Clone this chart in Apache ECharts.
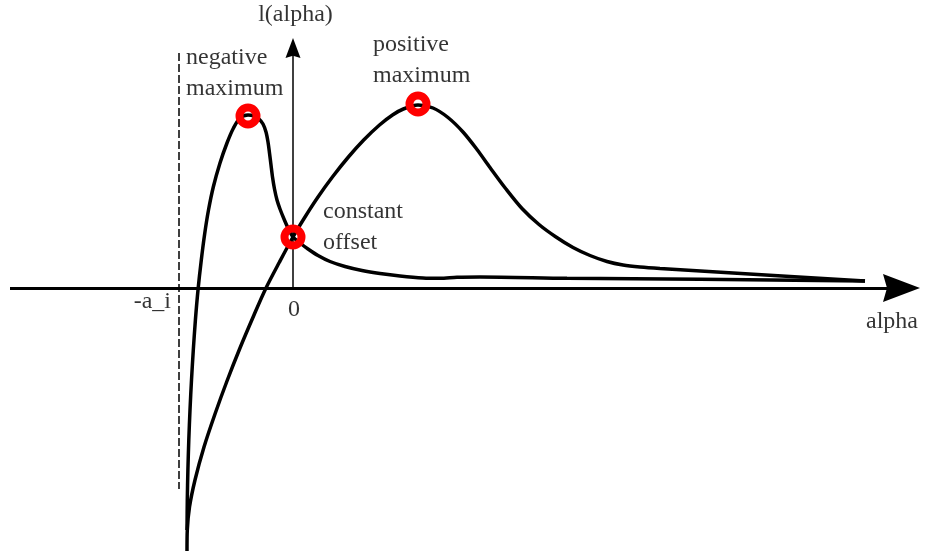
<!DOCTYPE html>
<html><head><meta charset="utf-8">
<script src="https://cdn.jsdelivr.net/npm/echarts@6/dist/echarts.min.js"></script>
<style>html,body{margin:0;padding:0;background:#fff}#c{width:932px;height:554px}</style>
</head><body><div id="c"></div>
<script>
// curve with the negative maximum: [alpha, l(alpha)]
const curveNegative = [
  [-1.06,-2.42],[-1.057,-2.12],[-1.051,-1.82],[-1.042,-1.52],[-1.03,-1.22],[-1.015,-0.92],
  [-0.997,-0.62],[-0.976,-0.32],[-0.95,-0.02],[-0.917,0.28],[-0.882,0.55],[-0.845,0.78],
  [-0.797,1.01],[-0.73,1.25],[-0.66,1.45],[-0.595,1.60],[-0.53,1.70],[-0.45,1.73],
  [-0.39,1.72],[-0.34,1.69],[-0.30,1.64],[-0.27,1.56],[-0.25,1.46],[-0.235,1.35],
  [-0.22,1.23],[-0.205,1.11],[-0.185,0.99],[-0.16,0.88],[-0.13,0.79],[-0.09,0.69],
  [-0.05,0.60],[0,0.51],[0.07,0.45],[0.15,0.39],[0.25,0.325],[0.37,0.265],[0.52,0.215],
  [0.69,0.175],[0.87,0.145],[1.07,0.12],[1.30,0.10],[1.47,0.097],[1.64,0.107],[1.87,0.11],
  [2.74,0.097],[4.07,0.087],[5.72,0.07]
];
// curve with the positive maximum
const curvePositive = [
  [-1.06,-2.63],[-1.057,-2.42],[-1.035,-2.19],[-0.98,-1.92],[-0.89,-1.59],[-0.78,-1.26],
  [-0.66,-0.93],[-0.53,-0.60],[-0.39,-0.27],[-0.27,0],[-0.135,0.26],[0,0.51],[0.12,0.71],
  [0.25,0.91],[0.394,1.11],[0.554,1.31],[0.707,1.48],[0.865,1.63],[0.995,1.73],[1.103,1.79],
  [1.25,1.83],[1.40,1.80],[1.55,1.705],[1.70,1.56],[1.84,1.385],[1.97,1.205],[2.13,0.99],
  [2.29,0.795],[2.46,0.635],[2.63,0.51],[2.80,0.405],[2.97,0.325],[3.14,0.265],[3.30,0.23],
  [3.47,0.21],[3.67,0.195],[4.40,0.15],[5.72,0.07]
];
// highlighted points: negative maximum, positive maximum, constant offset
const keyPoints = [[-0.45,1.72],[1.25,1.84],[0,0.51]];
const poleAlpha = -1.14;   // -a_i
const annotationTexts = ['l(alpha)','negative\nmaximum','positive\nmaximum','constant\noffset','-a_i','0','alpha'];

const FONT = '"Liberation Serif", "Times New Roman", serif';
const arrowPath = 'path://M0,0 L14,37 L0,33 L-14,37 Z';
const labelPlacement = [
  {x:0.025, y:2.73, align:'center'},
  {x:-1.07, y:2.15, align:'left'},
  {x:0.80, y:2.28, align:'left'},
  {x:0.30, y:0.61, align:'left'},
  {x:-1.22, y:-0.14, align:'right'},
  {x:0.01, y:-0.22, align:'center'},
  {x:6.25, y:-0.34, align:'right'}
];

const chart = echarts.init(document.getElementById('c'), null, {renderer:'canvas'});
const curveStyle = {color:'#000', width:3.5};
chart.setOption({
  animation:false,
  backgroundColor:'#fff',
  grid:{left:0,right:0,top:0,bottom:0},
  xAxis:{type:'value',min:-2.93,max:6.39,show:false},
  yAxis:{type:'value',min:-2.66,max:2.88,show:false},
  series:[
    {type:'line', data:[], silent:true, z:1,
     markLine:{silent:true, animation:false, symbol:['none', arrowPath], symbolSize:[28,37],
       label:{show:false}, lineStyle:{color:'#000', width:3, type:'solid'},
       data:[[{coord:[-2.83,0]},{coord:[6.085,0]}]]}},
    {type:'line', data:[], silent:true, z:1,
     markLine:{silent:true, animation:false, symbol:['none', arrowPath], symbolSize:[15,20],
       label:{show:false}, lineStyle:{color:'#000', width:1.5, type:'solid'},
       data:[[{coord:[0,0]},{coord:[0,2.40]}]]}},
    {type:'line', data:[], silent:true, z:1,
     markLine:{silent:true, animation:false, symbol:['none','none'],
       label:{show:false}, lineStyle:{color:'#000', width:1.5, type:[8,3]},
       data:[[{coord:[poleAlpha,2.35]},{coord:[poleAlpha,-2.01]}]]}},
    {type:'line', data:curveNegative, smooth:0.3, showSymbol:false, lineStyle:curveStyle, z:2},
    {type:'line', data:curvePositive, smooth:0.3, showSymbol:false, lineStyle:curveStyle, z:2},
    {type:'scatter', data:keyPoints, symbol:'circle', symbolSize:17, z:5,
     itemStyle:{color:'rgba(0,0,0,0)', borderColor:'#ff0000', borderWidth:8, opacity:1}},
    {type:'scatter', symbolSize:0, z:6, silent:true,
     data:annotationTexts.map((t,i)=>({
       value:[labelPlacement[i].x, labelPlacement[i].y],
       label:{show:true, formatter:t, position:[0,0], align:labelPlacement[i].align,
         verticalAlign:'middle', fontFamily:FONT, fontSize:24, lineHeight:31, color:'#000'}
     }))}
  ]
});
</script>
</body></html>
